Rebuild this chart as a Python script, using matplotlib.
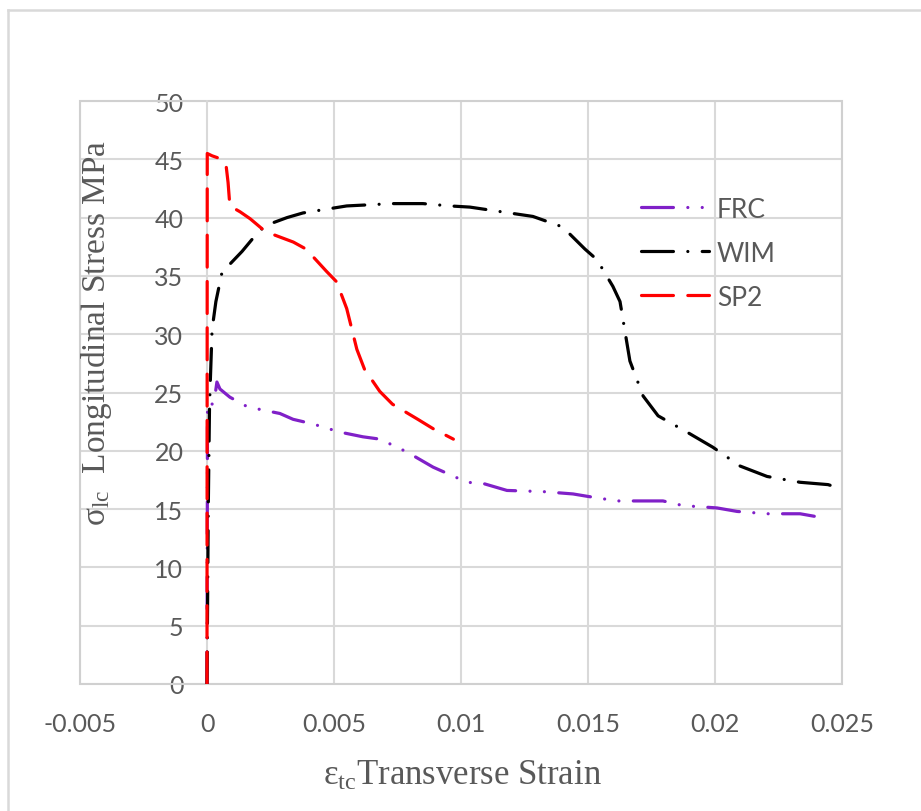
import matplotlib.pyplot as plt
from matplotlib.lines import Line2D
from matplotlib.patches import Rectangle

# strain / stress readings for the three specimens
frc_strain = [0, 0.00002, 0.0001, 0.0002, 0.00032, 0.00039, 0.00051, 0.0009, 0.00157,
              0.00197, 0.00287, 0.00339, 0.00417, 0.00524, 0.00614, 0.00681, 0.00787,
              0.0089, 0.01024, 0.01087, 0.01181, 0.01323, 0.01441, 0.01496, 0.01614,
              0.01795, 0.01874, 0.02008, 0.02087, 0.02205, 0.02335, 0.02413]
frc_stress = [0, 23.8, 24.2, 24.0, 24.8, 25.9, 25.3, 24.6, 23.8, 23.6, 23.2, 22.7, 22.3,
              21.6, 21.2, 21.0, 19.9, 18.6, 17.3, 17.2, 16.6, 16.5, 16.3, 16.1, 15.7,
              15.7, 15.3, 15.1, 14.8, 14.6, 14.6, 14.3]

wim_strain = [0, 0.00005, 0.0001, 0.0002, 0.00035, 0.00059, 0.00138, 0.0018, 0.00228,
              0.00315, 0.00378, 0.0055, 0.0073, 0.0085, 0.00957, 0.01035, 0.01283,
              0.0140, 0.01488, 0.01535, 0.01598, 0.01626, 0.01665, 0.01717, 0.01776,
              0.0189, 0.01992, 0.02098, 0.02205, 0.02335, 0.02445, 0.02504]
wim_stress = [0, 15.0, 24.0, 30.4, 32.8, 35.3, 37.1, 38.2, 39.3, 40.0, 40.4, 41.0, 41.2,
              41.2, 41.0, 40.9, 40.1, 39.2, 37.3, 36.4, 34.1, 32.8, 27.7, 24.7, 23.0,
              21.6, 20.3, 18.7, 17.8, 17.3, 17.1, 16.7]

sp2_strain = [0, 0.00001, 0.0002, 0.00059, 0.00075, 0.00083, 0.0009, 0.0013, 0.0017,
              0.0023, 0.0034, 0.0039, 0.0047, 0.0051, 0.0055, 0.0059, 0.0062, 0.0068,
              0.0073, 0.0083, 0.0089, 0.0097]
sp2_stress = [0, 45.5, 45.3, 45.0, 44.5, 43.0, 41.0, 40.5, 39.9, 38.8, 37.9, 37.3, 35.4,
              34.5, 32.2, 28.7, 27.0, 25.1, 24.0, 22.7, 21.9, 21.0]

x_ticks = [-0.005, 0, 0.005, 0.01, 0.015, 0.02, 0.025]
x_labels = ['-0.005', '0', '0.005', '0.01', '0.015', '0.02', '0.025']
y_ticks = list(range(0, 51, 5))

grey = '#595959'
grid = '#D9D9D9'

fig = plt.figure(figsize=(9.21, 8.12), dpi=100)
ax = fig.add_axes([80 / 921, 1 - 685 / 812, 762 / 921, 583 / 812])

lw = 2.3
ax.plot(frc_strain, frc_stress, color='#8020C8', lw=lw, label='FRC',
        dashes=[10, 4.5, 0.01, 4.5, 0.01, 4.5], dash_capstyle='round', zorder=3)
ax.plot(wim_strain, wim_stress, color='black', lw=lw, label='WIM',
        dashes=[10, 4.5, 0.01, 4.5], dash_capstyle='round', zorder=3)
ax.plot(sp2_strain, sp2_stress, color='#FF0000', lw=lw, label='SP2',
        dashes=[10, 4.5], dash_capstyle='round', zorder=4)

ax.set_xlim(-0.005, 0.025)
ax.set_ylim(0, 50)
ax.set_xticks(x_ticks)
ax.set_xticklabels(x_labels)
ax.set_yticks(y_ticks)

# y axis sits at strain = 0, frame drawn separately
for side in ['top', 'right', 'bottom']:
    ax.spines[side].set_visible(False)
ax.spines['left'].set_position(('data', 0))
ax.spines['left'].set_color(grid)
ax.spines['left'].set_linewidth(1.2)

ax.grid(True, color=grid, lw=1.5, zorder=0)
ax.set_axisbelow(True)
ax.add_patch(Rectangle((0, 0), 1, 1, transform=ax.transAxes, fill=False,
                       edgecolor='#D0D0D0', lw=1.5, clip_on=False, zorder=1))

ax.tick_params(axis='both', length=0, labelsize=18, labelcolor=grey)
ax.tick_params(axis='x', pad=20)
ax.tick_params(axis='y', pad=17)
for lab in ax.get_xticklabels() + ax.get_yticklabels():
    lab.set_fontfamily('Lato')

leg = ax.legend(loc='upper left', bbox_to_anchor=(550 / 762, 1 - 85 / 583),
                frameon=False, prop={'family': 'Lato', 'size': 19},
                handlelength=2.6, handletextpad=0.3, labelspacing=0.72,
                borderaxespad=0)
for t in leg.get_texts():
    t.set_color(grey)

fig.text(97 / 921, 1 - 333 / 812, r'$\mathregular{σ_{lc}}$  Longitudinal Stress MPa',
         rotation=90, ha='center', va='center', fontsize=24,
         family='Liberation Serif', color=grey)
fig.text(462 / 921, 1 - 776 / 812, r'$\mathregular{ε_{tc}}$Transverse Strain',
         ha='center', va='center', fontsize=25, family='Liberation Serif', color=grey)

# outer chart border
fig.add_artist(Line2D([8 / 921, 8 / 921], [0, 1 - 11 / 812], color=grid, lw=1.8))
fig.add_artist(Line2D([8 / 921, 1], [1 - 11 / 812, 1 - 11 / 812], color=grid, lw=1.8))

fig.savefig('out.png', dpi=100)
